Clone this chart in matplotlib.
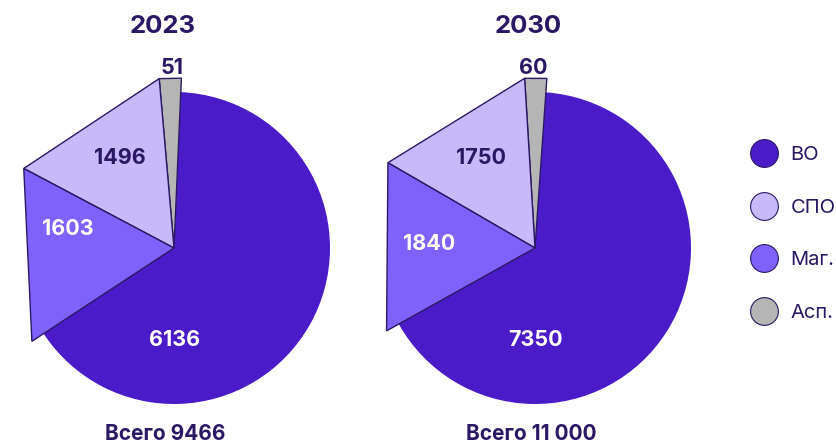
import matplotlib
matplotlib.use("Agg")
import matplotlib.pyplot as plt
from matplotlib.patches import Wedge, Polygon
from matplotlib.lines import Line2D
import numpy as np

W, H = 837, 444

categories = ["ВО", "СПО", "Маг.", "Асп."]
years = ["2023", "2030"]
values_2023 = [6136, 1496, 1603, 51]
values_2030 = [7350, 1750, 1840, 60]
totals = ["Всего 9466", "Всего 11 000"]

colors = ["#4a1bc9", "#c8b9fb", "#7f62fc", "#b5b5b5"]
label_colors = ["white", "#2b1865", "white", "#2b1865"]
dark = "#2b1865"

plt.rcParams['font.family'] = ['Inter', 'DejaVu Sans']

fig = plt.figure(figsize=(W / 100, H / 100), dpi=100)
ax = fig.add_axes([0, 0, 1, 1])
ax.set_xlim(0, W)
ax.set_ylim(0, H)
ax.axis('off')


def sy(y):
    return H - y


MIN_ANGLE = 7.5
R_MAIN = 156
R_TRI = 170

layouts = [
    dict(center=(174, 248), start=87.5, title=(163, 27), total=(165, 434),
         labels={0: (175, 340), 1: (120, 158), 2: (68, 229), 3: (172, 68)}),
    dict(center=(535, 248), start=86, title=(528, 27), total=(531, 434),
         labels={0: (536, 340), 1: (481, 158), 2: (429, 244), 3: (533, 68)}),
]

draw_order = [3, 1, 2, 0]  # counter-clockwise from the top: Асп., СПО, Маг., ВО

for vals, year, total, lay in zip([values_2023, values_2030], years, totals, layouts):
    vals = np.array(vals, dtype=float)
    raw = vals / vals.sum() * 360.0
    small = raw < MIN_ANGLE
    spans = raw.copy()
    spans[small] = MIN_ANGLE
    spans[~small] = raw[~small] * (360.0 - MIN_ANGLE * small.sum()) / raw[~small].sum()

    cx, cy = lay["center"][0], sy(lay["center"][1])
    theta = lay["start"]
    for i in draw_order:
        t1, t2 = theta, theta + spans[i]
        theta = t2
        if i == 0:
            ax.add_patch(Wedge((cx, cy), R_MAIN, t1, t2, facecolor=colors[i],
                               edgecolor='none', zorder=1))
        else:
            p1 = (cx + R_TRI * np.cos(np.radians(t1)), cy + R_TRI * np.sin(np.radians(t1)))
            p2 = (cx + R_TRI * np.cos(np.radians(t2)), cy + R_TRI * np.sin(np.radians(t2)))
            ax.add_patch(Polygon([(cx, cy), p1, p2], closed=True, facecolor=colors[i],
                                 edgecolor=dark, linewidth=1.0, joinstyle='miter', zorder=2))

    for i, (lx, ly) in lay["labels"].items():
        ax.text(lx, sy(ly), f"{int(vals[i])}", ha='center', va='center',
                fontsize=15.5, fontweight='bold', color=label_colors[i], zorder=5)

    ax.text(lay["title"][0], sy(lay["title"][1]), year, ha='center', va='center',
            fontsize=18.5, fontweight='bold', color=dark)
    ax.text(lay["total"][0], sy(lay["total"][1]), total, ha='center', va='center',
            fontsize=15, fontweight='bold', color=dark)

handles = [Line2D([], [], marker='o', linestyle='', markersize=20,
                  markerfacecolor=c, markeredgecolor=dark, markeredgewidth=0.8)
           for c in colors]
leg = ax.legend(handles, categories, loc='center left',
                bbox_to_anchor=(746 / W, sy(234) / H), frameon=False,
                fontsize=14.5, labelcolor=dark, handlelength=1.0,
                handletextpad=0.8, labelspacing=1.71, borderpad=0.4,
                borderaxespad=0.0)

fig.savefig("out.png", dpi=100)
